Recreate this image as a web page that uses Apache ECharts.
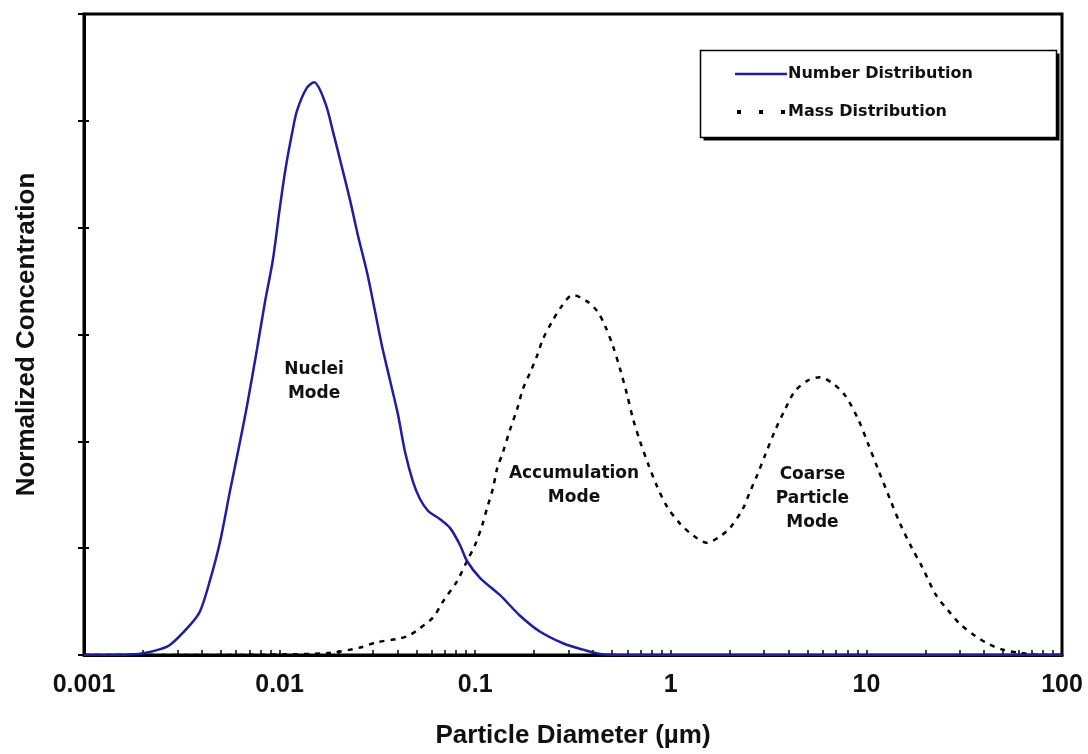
<!DOCTYPE html>
<html>
<head>
<meta charset="utf-8">
<script src="https://cdn.jsdelivr.net/npm/echarts@6/dist/echarts.min.js"></script>
<style>
html,body{margin:0;padding:0;background:#fff;}
#chart{width:1088px;height:754px;}
</style>
</head>
<body>
<div id="chart"></div>
<script>
// ---- data ----
const numberDiameter = [0.001,0.0015,0.0019,0.00217,0.00245,0.00275,0.00348,0.00392,0.00441,0.00496,0.00557,0.00628,0.00681,0.00766,0.00841,0.00924,0.0100,0.0107,0.0116,0.0123,0.0138,0.0150,0.0171,0.0188,0.0208,0.0229,0.0252,0.0280,0.0308,0.0334,0.0367,0.0403,0.0438,0.0481,0.0522,0.0574,0.0661,0.0743,0.0836,0.0908,0.106,0.134,0.169,0.214,0.281,0.356,0.435,0.6,1,10,100];
const numberConc     = [0,0.002,0.01,0.028,0.055,0.093,0.28,0.41,0.70,1.06,1.53,2.00,2.33,2.86,3.30,3.70,4.17,4.54,4.89,5.10,5.31,5.36,5.17,4.89,4.57,4.26,3.92,3.58,3.21,2.89,2.57,2.25,1.90,1.62,1.46,1.35,1.27,1.19,1.03,0.88,0.72,0.56,0.37,0.22,0.11,0.05,0.01,0,0,0,0];

const massDiameter = [0.001,0.004,0.01,0.0181,0.0258,0.0315,0.0398,0.0455,0.0503,0.0608,0.0684,0.0807,0.0908,0.0998,0.1084,0.1148,0.1233,0.1292,0.1387,0.1507,0.1637,0.1754,0.1905,0.2070,0.2223,0.2472,0.2780,0.3162,0.3732,0.4198,0.4615,0.5063,0.5498,0.597,0.641,0.696,0.765,0.850,0.956,1.114,1.299,1.531,1.785,2.009,2.339,2.541,2.760,3.033,3.41,3.84,4.31,5.03,5.79,6.75,7.78,9.06,10.19,11.46,13.2,14.86,17.1,19.2,22.7,26.1,30.1,35.9,42.4,49.9,61.0,80,100];
const massConc     = [0,0,0.005,0.02,0.07,0.12,0.15,0.18,0.23,0.35,0.50,0.69,0.88,1.03,1.21,1.37,1.56,1.74,1.90,2.11,2.30,2.49,2.64,2.80,2.96,3.12,3.27,3.37,3.31,3.22,3.08,2.89,2.68,2.44,2.21,2.00,1.79,1.58,1.39,1.23,1.12,1.05,1.11,1.19,1.37,1.53,1.68,1.87,2.10,2.30,2.47,2.57,2.60,2.54,2.43,2.21,1.98,1.74,1.46,1.23,1.00,0.83,0.56,0.42,0.29,0.18,0.10,0.05,0.02,0,0];

const seriesNames = ['Number Distribution','Mass Distribution'];
const xTickValues = [0.001,0.01,0.1,1,10,100];
const xTickLabels = ['0.001','0.01','0.1','1','10','100'];
const xMinorMultipliers = [1,2,3,4,5,6,7,8,9];
const annotations = [
  {text:'Nuclei\nMode', x:0.015, y:2.56},
  {text:'Accumulation\nMode', x:0.32, y:1.59},
  {text:'Coarse\nParticle\nMode', x:5.3, y:1.46}
];
const xTitle = 'Particle Diameter (\u00b5m)';
const yTitle = 'Normalized Concentration';

// ---- build ----
const tickValues = [];
for (let d = 0; d < xTickValues.length - 1; d++) {
  for (const m of xMinorMultipliers) tickValues.push(+(xTickValues[d] * m).toPrecision(6));
}
tickValues.push(xTickValues[xTickValues.length - 1]);

const zip = (a, b) => a.map((v, i) => [v, b[i]]);
const labelFont = {fontFamily:'Liberation Sans', fontWeight:'bold', fontSize:25, color:'#111'};
const titleFont = {fontFamily:'Liberation Sans', fontWeight:'bold', fontSize:26, color:'#111'};
const blue = '#1f1f9e';

const chart = echarts.init(document.getElementById('chart'), null, {renderer:'canvas'});
chart.setOption({
  animation:false,
  backgroundColor:'#fff',
  grid:{left:84, right:26, top:14, bottom:97, show:true, borderColor:'#000', borderWidth:3, backgroundColor:'transparent'},
  legend:{
    orient:'vertical', left:700, top:50, z:6,
    padding:[16, 80, 17, 33],
    itemWidth:52, itemHeight:14, itemGap:22,
    backgroundColor:'transparent', borderWidth:0,
    itemStyle:{opacity:0},
    textStyle:{fontFamily:'DejaVu Sans', fontWeight:'bold', fontSize:16, color:'#111', padding:[0,0,0,-4]},
    data:[
      {name:seriesNames[0], lineStyle:{color:blue, width:2.5, type:'solid'}},
      {name:seriesNames[1], lineStyle:{color:'#000', width:4, type:[4,18], dashOffset:-2}}
    ]
  },
  xAxis:{
    type:'log', logBase:10, min:0.001, max:100,
    name:xTitle, nameLocation:'middle', nameGap:68,
    nameTextStyle:titleFont,
    axisLine:{show:true, lineStyle:{color:'#000', width:3}},
    axisTick:{show:true, inside:true, length:5, lineStyle:{color:'#000', width:1.5}, customValues:tickValues},
    axisLabel:{show:true, margin:18, ...labelFont, customValues:xTickValues,
      formatter:(v)=>{let best=0;for(let i=0;i<xTickValues.length;i++){if(Math.abs(Math.log10(v)-Math.log10(xTickValues[i]))<Math.abs(Math.log10(v)-Math.log10(xTickValues[best])))best=i;}return xTickLabels[best];}},
    splitLine:{show:false}, minorTick:{show:false}
  },
  yAxis:[{
    type:'value', min:0, max:6, interval:1,
    name:yTitle, nameLocation:'middle', nameGap:44, nameRotate:90,
    nameTextStyle:titleFont,
    axisLine:{show:true, lineStyle:{color:'#000', width:3}},
    axisTick:{show:true, inside:false, length:6, lineStyle:{color:'#000', width:2}},
    axisLabel:{show:false}, splitLine:{show:false}
  },{
    type:'value', min:0, max:6, interval:1, position:'left',
    axisLine:{show:false},
    axisTick:{show:true, inside:true, length:5, lineStyle:{color:'#000', width:2}},
    axisLabel:{show:false}, splitLine:{show:false}
  }],
  series:[
    {name:seriesNames[0], type:'line', data:zip(numberDiameter, numberConc),
     showSymbol:false, symbol:'none', smooth:0.3, z:3,
     lineStyle:{color:blue, width:2.5}, itemStyle:{color:blue}},
    {name:seriesNames[1], type:'line', data:zip(massDiameter, massConc),
     showSymbol:false, symbol:'none', smooth:0.3, z:2,
     lineStyle:{color:'#000', width:2.5, type:[5,6]}, itemStyle:{color:'#000'}}
  ]
});

// annotations positioned through the chart's own scales
const g = annotations.map(a => {
  const p = chart.convertToPixel({gridIndex:0}, [a.x, a.y]);
  return {type:'text', x:p[0], y:p[1], z:10,
    style:{text:a.text, fill:'#111', font:'bold 17px "DejaVu Sans"', align:'center', verticalAlign:'middle', lineHeight:24}};
});
// legend frame with a solid drop shadow
g.push({type:'rect', z:4, shape:{x:703.5, y:53.5, width:356, height:87}, style:{fill:'#000'}});
g.push({type:'rect', z:5, shape:{x:700.5, y:50.5, width:356, height:87}, style:{fill:'#fff', stroke:'#000', lineWidth:1.5}});
chart.setOption({graphic:g});
</script>
</body>
</html>
